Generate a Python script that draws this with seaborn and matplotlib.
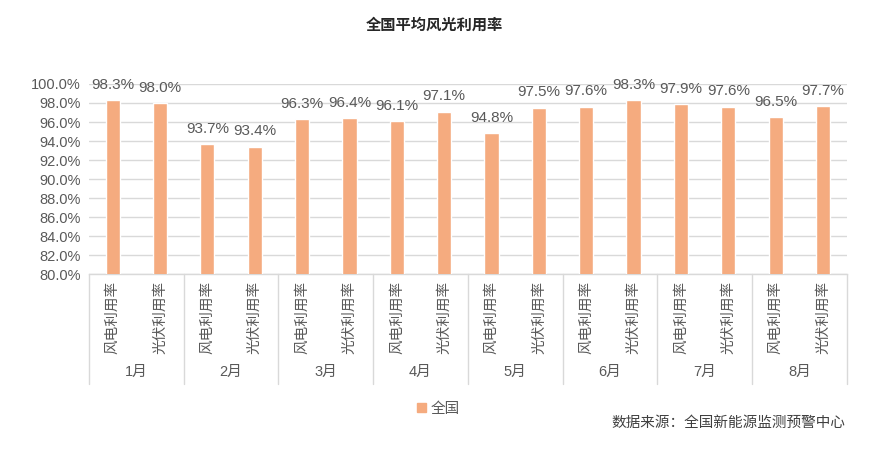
import matplotlib.pyplot as plt
import matplotlib.transforms as mtransforms
from matplotlib.patches import Patch
import seaborn as sns
import pandas as pd

# data
months = ["1月", "2月", "3月", "4月", "5月", "6月", "7月", "8月"]
kinds = ["风电利用率", "光伏利用率"]
wind = [98.3, 93.7, 96.3, 96.1, 94.8, 97.6, 97.9, 96.5]
solar = [98.0, 93.4, 96.4, 97.1, 97.5, 98.3, 97.6, 97.7]

rows = []
for m, w, s in zip(months, wind, solar):
    rows.append({"key": m + kinds[0], "month": m, "kind": kinds[0], "value": w})
    rows.append({"key": m + kinds[1], "month": m, "kind": kinds[1], "value": s})
df = pd.DataFrame(rows)

sns.set_style("white")
plt.rcParams['font.family'] = ['Liberation Sans', 'Noto Sans CJK SC']

bar_color = "#F5AB7F"
text_color = "#595959"
grid_color = "#D9D9D9"

fig = plt.figure(figsize=(8.95, 4.53), dpi=100)
ax = fig.add_axes([0.0994, 0.395, 0.8466, 0.4196])

sns.barplot(data=df, x="key", y="value", color=bar_color, width=0.3,
            saturation=1, ax=ax, zorder=3)

ax.set_ylim(80, 100)
ax.set_yticks(range(80, 101, 2))
ax.set_yticklabels([f"{v:.1f}%" for v in range(80, 101, 2)], fontsize=10.5, color=text_color)
ax.yaxis.grid(True, color=grid_color, lw=1, zorder=0)
ax.set_axisbelow(True)

ax.set_xticks(range(len(df)))
ax.set_xticklabels(df["kind"], rotation=90, fontsize=10.5, color=text_color)
ax.tick_params(axis="both", length=0)
ax.tick_params(axis="x", pad=5)
ax.tick_params(axis="y", pad=6)
ax.set_xlim(-0.5, len(df) - 0.5)
ax.set_xlabel("")
ax.set_ylabel("")

for side in ["left", "right", "top"]:
    ax.spines[side].set_visible(False)
ax.spines["bottom"].set_color(grid_color)
ax.spines["bottom"].set_linewidth(1)

# value labels
ax.bar_label(ax.containers[0], labels=[f"{v:.1f}%" for v in df["value"]],
             padding=6, fontsize=11, color=text_color, clip_on=False)

# multi-level category axis
trans = mtransforms.blended_transform_factory(ax.transData, ax.transAxes)
for i in range(len(months) + 1):
    ax.plot([i * 2 - 0.5, i * 2 - 0.5], [0, -0.58], transform=trans,
            color=grid_color, lw=1, clip_on=False)
for i, m in enumerate(months):
    ax.text(i * 2 + 0.5, -0.515, m, transform=trans, ha="center", va="center",
            fontsize=10.5, color=text_color)

fig.text(0.485, 0.943, "全国平均风光利用率", ha="center", va="center",
         fontsize=11, fontweight="bold", color="#262626")

fig.legend(handles=[Patch(color=bar_color, label="全国")], loc="center",
           bbox_to_anchor=(0.49, 0.098), frameon=False, fontsize=10.5,
           handlelength=0.6, handleheight=0.6, handletextpad=0.3,
           labelcolor=text_color)

fig.text(0.945, 0.066, "数据来源：全国新能源监测预警中心", ha="right", va="center",
         fontsize=10.5, color="#404040")

plt.savefig("out.png", dpi=100)
plt.close()
